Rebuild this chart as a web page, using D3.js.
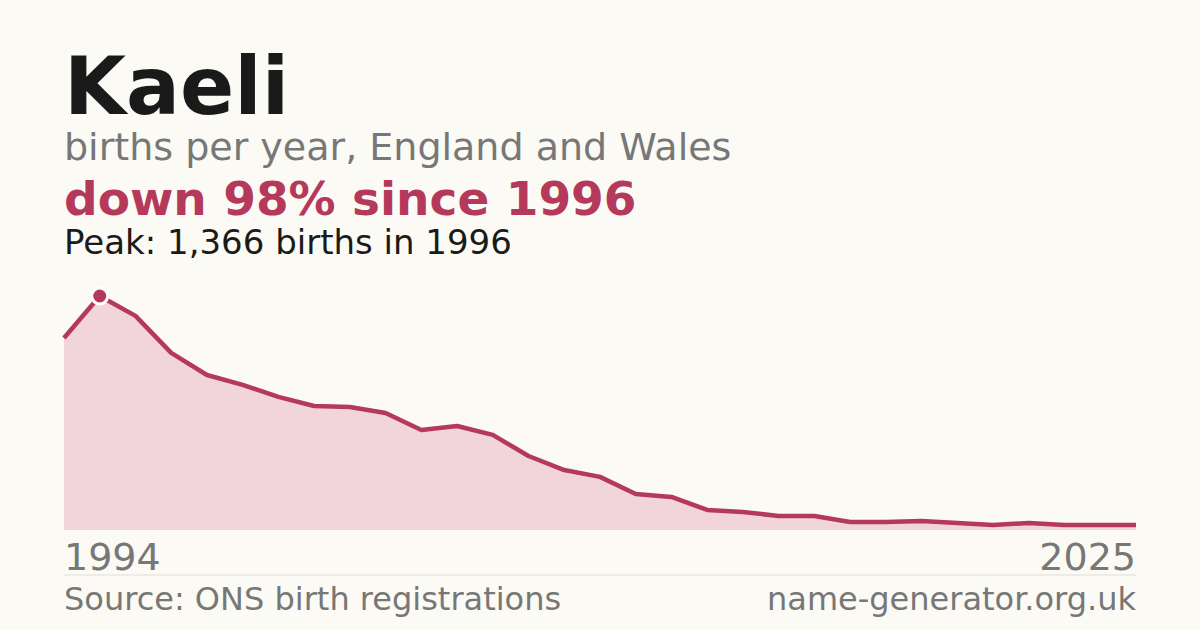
<!DOCTYPE html>
<html><head><meta charset="utf-8">
<script src="https://cdn.jsdelivr.net/npm/d3@7/dist/d3.min.js"></script>
<style>body{margin:0;background:#fbfaf5}svg{display:block}text{font-family:"DejaVu Sans",sans-serif}</style>
</head><body><svg id="c" width="1200" height="630"></svg>
<script>
const years = d3.range(1995, 2026);
const births = [1121,1366,1250,1034,905,847,777,724,718,683,584,607,555,432,350,310,210,193,117,105,82,82,47,47,53,41,29,41,29,29,29];
const tickLabels = ["1994","2025"];
const peakYear = 1996, peakValue = 1366;

const svg = d3.select("#c");
svg.append("rect").attr("width",1200).attr("height",630).attr("fill","#fbfaf5");
const x = d3.scaleLinear().domain([years[0], years[years.length-1]]).range([64,1136]);
const y = d3.scaleLinear().domain([0, peakValue]).range([530,296]);
const data = years.map((yr,i)=>({yr, v:births[i]}));
const red = "#b5395a";

svg.append("path").datum(data).attr("fill","#f2d5db")
  .attr("d", d3.area().x(d=>x(d.yr)).y0(y(0)).y1(d=>y(d.v)));
svg.append("path").datum(data).attr("fill","none").attr("stroke",red).attr("stroke-width",4.5)
  .attr("stroke-linejoin","round").attr("d", d3.line().x(d=>x(d.yr)).y(d=>y(d.v)));
svg.append("circle").attr("cx",x(peakYear)).attr("cy",y(peakValue)).attr("r",8)
  .attr("fill",red).attr("stroke","#fff").attr("stroke-width",3);

const t = (txt,xp,yp,size,fill,weight,anchor)=>svg.append("text").attr("x",xp).attr("y",yp)
  .attr("font-size",size).attr("fill",fill).attr("font-weight",weight||"normal")
  .attr("text-anchor",anchor||"start").text(txt);
t("Kaeli",64,114,80,"#1a1a1a","bold");
t("births per year, England and Wales",64,160,38,"#777");
t("down 98% since 1996",64,215,47,red,"bold");
t("Peak: 1,366 births in 1996",64,254,34,"#1a1a1a");
t(tickLabels[0],64,570,38,"#777");
t(tickLabels[1],1136,570,38,"#777","normal","end");
svg.append("line").attr("x1",64).attr("x2",1136).attr("y1",575).attr("y2",575).attr("stroke","#e0ddd5");
t("Source: ONS birth registrations",64,610,32,"#777");
t("name-generator.org.uk",1136,610,32,"#777","normal","end");
</script></body></html>
